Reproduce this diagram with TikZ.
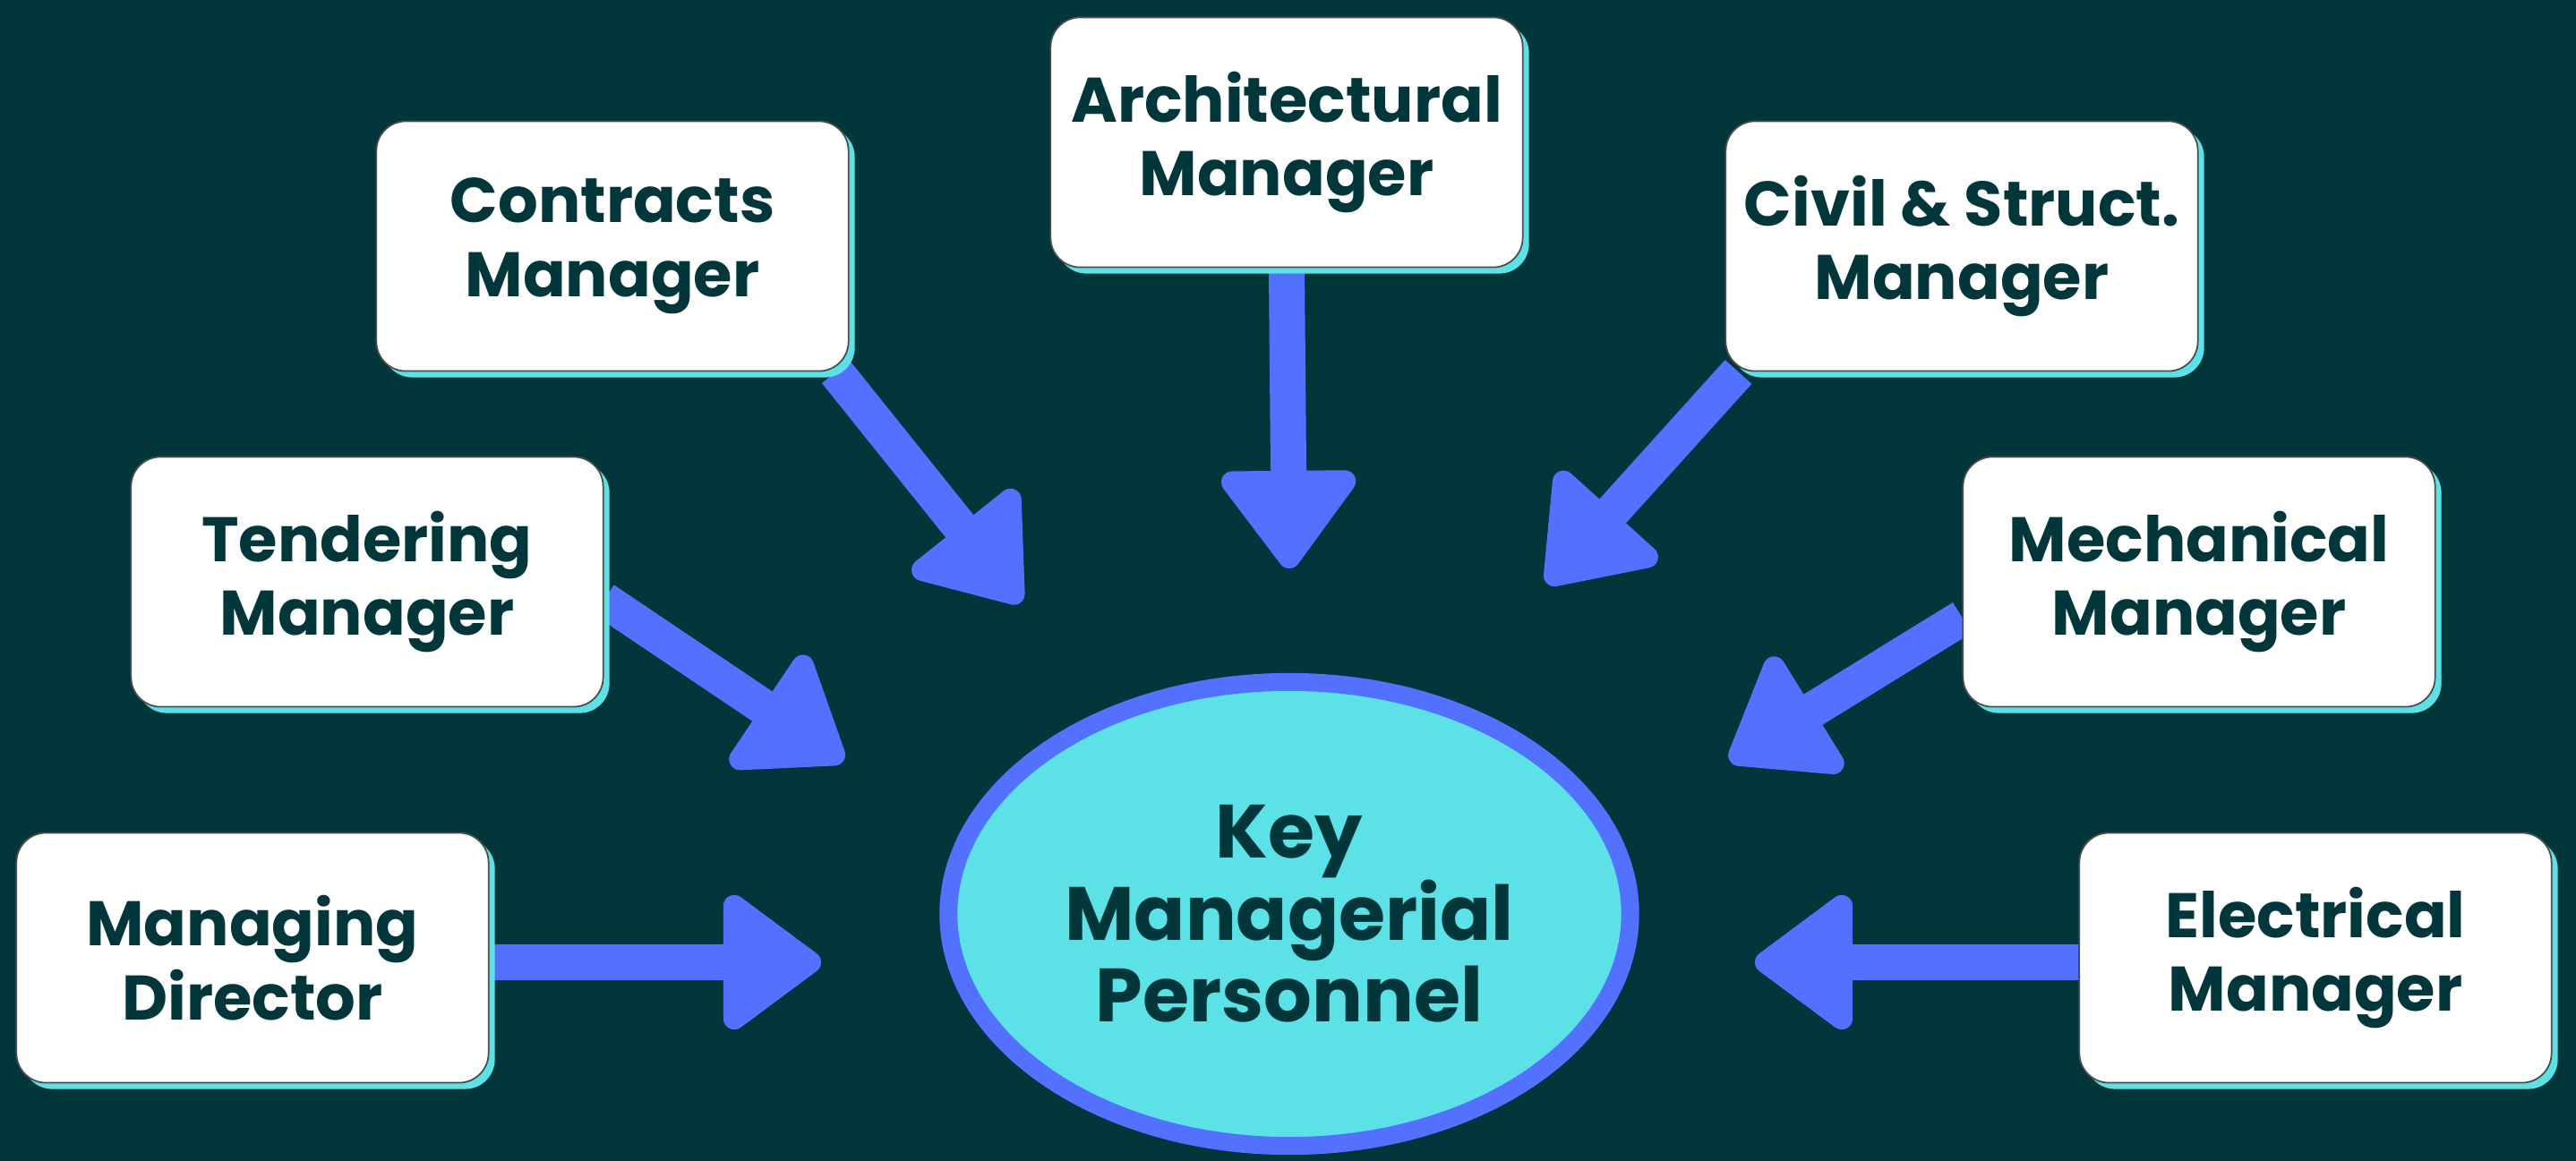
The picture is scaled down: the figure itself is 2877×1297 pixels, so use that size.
\documentclass[tikz,border=0pt]{standalone}
\usepackage{fontspec}
\setmainfont{Poppins}
\usetikzlibrary{arrows.meta,shadows,shapes.geometric,backgrounds}
\definecolor{sfondo}{HTML}{01363A}
\definecolor{testo}{HTML}{01363A}
\definecolor{ciano}{HTML}{5CE1E6}
\definecolor{blu}{HTML}{5271FF}

\begin{document}
\begin{tikzpicture}[x=0.01cm, y=-0.01cm]
    % Definizione stili
    \tikzstyle{ruolo}=[draw=gray!60!black, line width=0.5pt, fill=white, rounded corners=0.33cm, minimum width=5.27cm, minimum height=2.79cm, align=center, text=testo, font=\fontsize{20}{23.5}\selectfont\bfseries, drop shadow={shadow xshift=0.07cm, shadow yshift=-0.07cm, fill=ciano, opacity=1}]
    \tikzstyle{centro}=[ellipse, draw=blu, line width=0.2cm, fill=ciano, minimum width=7.61cm, minimum height=5.18cm, inner sep=0pt, align=center, text=testo, font=\fontsize{24}{26}\selectfont\bfseries]
    \tikzstyle{freccia}=[draw=blu, line width=0.4cm, -{Triangle[length=1.18cm, width=1.68cm, round, line width=7pt]}]

    % Nodo centrale
    \node[centro] (kmp) at (1440,1021) {Key\\Managerial\\Personnel};

    % Ruoli a sinistra
    \node[ruolo] (box_md) at (282,1070) {Managing\\Director};
    \node[ruolo] (box_tm) at (410,650) {Tendering\\Manager};
    \node[ruolo] (box_cm) at (684,275) {Contracts\\Manager};

    % Ruolo in alto
    \node[ruolo] (box_am) at (1437,159) {Architectural\\Manager};

    % Ruoli a destra
    \node[ruolo] (box_cs) at (2191,275) {Civil \& Struct.\\Manager};
    \node[ruolo] (box_mm) at (2456,650) {Mechanical\\Manager};
    \node[ruolo] (box_em) at (2586,1070) {Electrical\\Manager};

    % Punte delle frecce
    \coordinate (punta_md) at (917,1075);
    \coordinate (punta_tm) at (942,850);
    \coordinate (punta_cm) at (1140,673);
    \coordinate (punta_am) at (1440,635);
    \coordinate (punta_cs) at (1728,652);
    \coordinate (punta_mm) at (1932,850);
    \coordinate (punta_em) at (1960,1075);

    % Sfondo e frecce (sotto i riquadri)
    \begin{scope}[on background layer]
        \fill[sfondo] (0,0) rectangle (2877,1297);
        \draw[freccia] ([yshift=-0.05cm]box_md.east) -- (punta_md);
        \draw[freccia] ([yshift=-0.2cm]box_tm.east) -- (punta_tm);
        \draw[freccia] ([xshift=-0.15cm]box_cm.south east) -- (punta_cm);
        \draw[freccia] (box_am.south) -- (punta_am);
        \draw[freccia] ([xshift=0.15cm]box_cs.south west) -- (punta_cs);
        \draw[freccia] ([yshift=-0.4cm]box_mm.west) -- (punta_mm);
        \draw[freccia] ([yshift=-0.05cm]box_em.west) -- (punta_em);
    \end{scope}
\end{tikzpicture}
\end{document}
